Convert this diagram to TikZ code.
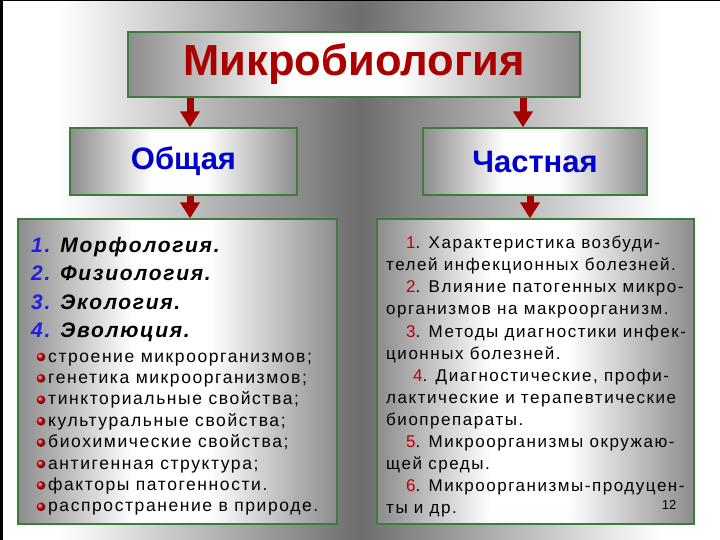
\documentclass[tikz,border=0pt]{standalone}
\usepackage{fontspec}
\setmainfont{Liberation Sans}
\newfontfamily\spaced[LetterSpace=9]{Liberation Sans}
\newfontfamily\spacedit[LetterSpace=8]{Liberation Sans}
\usepackage{tikz}
\usetikzlibrary{positioning,arrows.meta,calc,shadings}

\definecolor{titlered}{RGB}{170,0,0}
\definecolor{headblue}{RGB}{0,0,205}
\definecolor{numblue}{RGB}{30,30,230}
\definecolor{numred}{RGB}{190,0,0}
\definecolor{arrowred}{RGB}{165,0,0}
\definecolor{boxline}{RGB}{60,125,60}
\definecolor{boxedge}{gray}{0.55}
\definecolor{bgmid}{gray}{0.43}

\pgfdeclarehorizontalshading{bgshade}{100bp}{color(0bp)=(white); color(25bp)=(white); color(29bp)=(white); color(50bp)=(bgmid); color(71bp)=(white); color(75bp)=(white); color(100bp)=(white)}
\pgfdeclarehorizontalshading{boxshade}{100bp}{color(0bp)=(boxedge); color(25bp)=(boxedge); color(43bp)=(white); color(55bp)=(white); color(75bp)=(boxedge); color(100bp)=(boxedge)}

\begin{document}
\begin{tikzpicture}[x=1pt, y=-1pt,
		panel/.style={draw=boxline, line width=1.4pt, shading=boxshade, rectangle, inner sep=0pt},
		arr/.style={draw=arrowred, line width=7pt, -{Triangle[width=19pt,length=16pt]}},
		dot/.style={circle, inner sep=0pt, minimum size=8.6pt, shading=ball, ball color=red!85!black},
		item/.style={anchor=base west, inner sep=0pt, font=\spaced\fontsize{17.5}{20}\selectfont}]
		\useasboundingbox (0,0) rectangle (720,540);
		\shade[shading=bgshade] (0,0) rectangle (720,540);
		\fill[black] (0,0) rectangle (2.5,540);
		\fill[black] (0,0) rectangle (720,1.5);

		\node[panel, minimum width=452pt, minimum height=65pt] (micro) at (354,64.5)
			{\color{titlered}\fontsize{43.5}{50}\selectfont\bfseries Микробиология};
		\node[panel, minimum width=227pt, minimum height=67pt] (general) at (183.5,161.5)
			{\color{headblue}\fontsize{31}{36}\selectfont\bfseries Общая};
		\node[panel, minimum width=224pt, minimum height=67pt] (special) at (535,161.5)
			{\color{headblue}\fontsize{31}{36}\selectfont\bfseries Частная};
		\node[panel, minimum width=319pt, minimum height=305pt] (genbox) at (177.5,371.5) {};
		\node[panel, minimum width=317pt, minimum height=305pt] (specbox) at (535.5,371.5) {};

		\draw[arr] ($(micro.south -| general.north)+(6.5,0)$) -- ($(general.north)+(6.5,0)$);
		\draw[arr] ($(micro.south -| special.north)+(-12,0)$) -- ($(special.north)+(-12,0)$);
		\draw[arr] ($(general.south)+(6.5,0)$) -- ($(general.south |- genbox.north)+(6.5,0)$);
		\draw[arr] ($(special.south)+(-5,0)$) -- ($(special.south |- specbox.north)+(-5,0)$);

		% общая микробиология
		\node[anchor=north west, inner sep=0pt, align=left, font=\spacedit\fontsize{21}{28.5}\selectfont\bfseries\itshape] (parts) at (31,237)
			{{\color{numblue}1.} Морфология.\\
			{\color{numblue}2.} Физиология.\\
			{\color{numblue}3.} Экология.\\
			{\color{numblue}4.} Эволюция.};
		\foreach \t [count=\i] in {строение микроорганизмов;, генетика микроорганизмов;,
				тинкториальные свойства;, культуральные свойства;, биохимические свойства;,
				антигенная структура;, факторы патогенности., распространение в природе.} {
			\node[dot] (dot\i) at (41,{357+21.4*(\i-1)}) {};
			\node[item] (item\i) at (48,{362+21.4*(\i-1)}) {\t};
		}

		% частная микробиология
		\node[anchor=north west, inner sep=0pt, align=left, font=\spaced\fontsize{17}{22.1}\selectfont] (topics) at (386,236)
			{\hspace*{20pt}{\color{numred}1}. Характеристика возбуди-\\
			телей инфекционных болезней.\\
			\hspace*{20pt}{\color{numred}2}. Влияние патогенных микро-\\
			организмов на макроорганизм.\\
			\hspace*{20pt}{\color{numred}3}. Методы диагностики инфек-\\
			ционных болезней.\\
			\hspace*{27pt}{\color{numred}4}. Диагностические, профи-\\
			лактические и терапевтические\\
			биопрепараты.\\
			\hspace*{20pt}{\color{numred}5}. Микроорганизмы окружаю-\\
			щей среды.\\
			\hspace*{20pt}{\color{numred}6}. Микроорганизмы-продуцен-\\
			ты и др.};
		\node[font=\fontsize{13}{15}\selectfont, inner sep=0pt] (page) at (669,505) {12};
	\end{tikzpicture}
\end{document}
